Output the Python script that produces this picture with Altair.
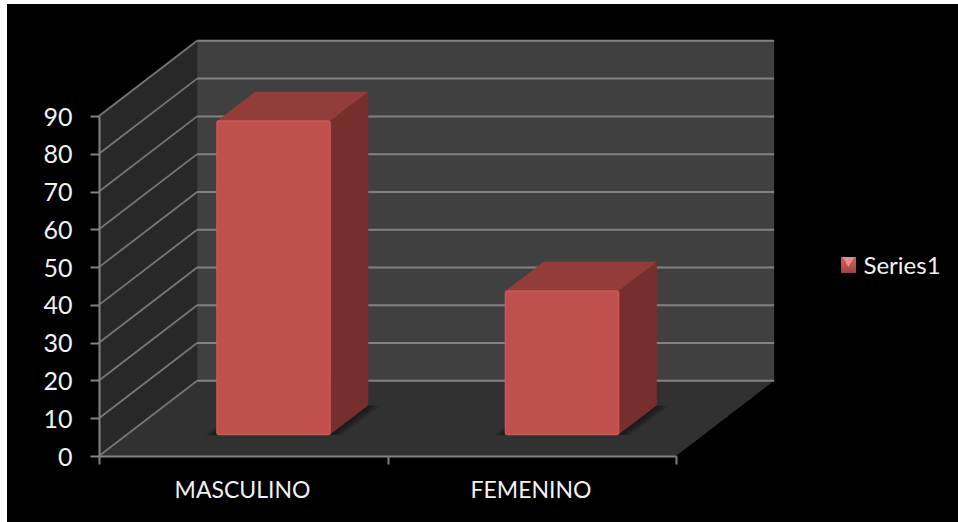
import altair as alt
import pandas as pd

# Values of the chart
categories = ["MASCULINO", "FEMENINO"]
series_name = "Series1"
values = [83, 38]
y_ticks = [0, 10, 20, 30, 40, 50, 60, 70, 80, 90]
x_ticks = [0, 1, 2]

# Oblique projection of the 3-D box: one unit of depth moves right and up
DEPTH_X = 0.34
DEPTH_Y = 19.9
BAR_LEFT = 0.312
BAR_WIDTH = 0.392
BAR_D0 = 0.285
BAR_D1 = 0.675

FONT = "Lato"
GRID = "#828282"
TEXT = "#f2f2f2"
BAR_FRONT = "#c0504d"
BAR_TOP = "#933d3a"
BAR_SIDE = "#772f2d"


def px(c, d):
    return c + d * DEPTH_X


def py(v, d):
    return v + d * DEPTH_Y


x_scale = alt.Scale(domain=[0, 2], nice=False, zero=False)
y_scale = alt.Scale(domain=[0, 90], nice=False, zero=False)

x_axis = alt.Axis(
    values=x_ticks, title=None, grid=False, zindex=1,
    domainColor=GRID, domainWidth=2,
    tickColor=GRID, tickSize=8, tickWidth=2,
    labelExpr="['" + "','".join(categories) + "',''][datum.value]",
    labelOffset=143, labelPadding=15, labelOverlap=False, labelBound=False, labelFlush=False,
    labelFont=FONT, labelFontSize=23, labelColor=TEXT,
)
y_axis = alt.Axis(
    values=y_ticks, title=None, grid=False, zindex=1,
    domainColor=GRID, domainWidth=2,
    tickColor=GRID, tickSize=9, tickWidth=2,
    labelPadding=18, labelOffset=1, labelFont=FONT, labelFontSize=25, labelColor=TEXT,
)
X = alt.X("x:Q", scale=x_scale, axis=x_axis)
Y = alt.Y("y:Q", scale=y_scale, axis=y_axis)

top_v = y_ticks[-1]

# Back wall, side wall and floor of the box
back_wall = alt.Chart(pd.DataFrame({
    "x": [px(0, 1)], "x2": [px(2, 1)], "y": [py(0, 1)], "y2": [py(top_v, 1)],
})).mark_rect(color="#404040").encode(X, x2="x2:Q", y=Y, y2="y2:Q")

side_wall = alt.Chart(pd.DataFrame({
    "x": [px(0, 0), px(0, 1)],
    "y": [py(0, 0), py(0, 1)],
    "y2": [py(top_v, 0), py(top_v, 1)],
})).mark_area(color="#282828").encode(X, y=Y, y2="y2:Q")

floor = alt.Chart(pd.DataFrame({
    "y": [py(0, 0), py(0, 1)],
    "x": [px(0, 0), px(0, 1)],
    "x2": [px(2, 0), px(2, 1)],
})).mark_area(color="#313131", orient="horizontal").encode(X, x2="x2:Q", y=Y)

# Gridlines on the back wall and their continuation across the side wall
back_grid = alt.Chart(pd.DataFrame({
    "x": [px(0, 1)] * len(y_ticks),
    "x2": [px(2, 1)] * len(y_ticks),
    "y": [py(v, 1) for v in y_ticks],
})).mark_rule(color=GRID, strokeWidth=2).encode(X, x2="x2:Q", y=Y)

side_rows = []
for v in y_ticks:
    side_rows.append({"x": px(0, 0), "y": py(v, 0), "level": v})
    side_rows.append({"x": px(0, 1), "y": py(v, 1), "level": v})
side_grid = alt.Chart(pd.DataFrame(side_rows)).mark_line(
    color="#767676", strokeWidth=1.8
).encode(X, Y, detail="level:N")

# Faces of the bars
front_rows, top_rows, side_rows_b, shadow_rows = [], [], [], []
for i, (cat, v) in enumerate(zip(categories, values)):
    c0 = i + BAR_LEFT
    c1 = c0 + BAR_WIDTH
    front_rows.append({
        "x": px(c0, BAR_D0), "x2": px(c1, BAR_D0),
        "y": py(0, BAR_D0), "y2": py(v, BAR_D0), "series": series_name,
    })
    for d in (BAR_D0, BAR_D1):
        top_rows.append({"bar": cat, "y": py(v, d), "x": px(c0, d), "x2": px(c1, d)})
    for d in (BAR_D0, BAR_D1):
        side_rows_b.append({"bar": cat, "x": px(c1, d), "y": py(0, d), "y2": py(v, d)})
    for spread in (0.04, 0.028, 0.016):
        for d in (BAR_D0, BAR_D1):
            shadow_rows.append({
                "key": f"{cat}{spread}", "y": py(0, d) - spread * 4,
                "x": px(c0 - spread, d), "x2": px(c1 + spread, d),
            })

shadows = alt.Chart(pd.DataFrame(shadow_rows)).mark_area(
    color="#000000", opacity=0.16, orient="horizontal"
).encode(X, x2="x2:Q", y=Y, detail="key:N")

tops = alt.Chart(pd.DataFrame(top_rows)).mark_area(
    color=BAR_TOP, orient="horizontal"
).encode(X, x2="x2:Q", y=Y, detail="bar:N")

sides = alt.Chart(pd.DataFrame(side_rows_b)).mark_area(
    color=BAR_SIDE
).encode(X, y=Y, y2="y2:Q", detail="bar:N")

fronts = alt.Chart(pd.DataFrame(front_rows)).mark_rect(
    stroke="#c95a56", strokeWidth=1.5, cornerRadius=2
).encode(
    X, x2="x2:Q", y=Y, y2="y2:Q",
    color=alt.Color("series:N", scale=alt.Scale(domain=[series_name], range=[BAR_FRONT]), legend=alt.Legend(
        title=None, orient="none", legendX=732.5, legendY=138.5, padding=0,
        symbolType="square", symbolSize=225, symbolOpacity=0,
        labelFont=FONT, labelFontSize=24, labelColor=TEXT, labelOffset=8,
    )),
)

# Legend key with its shaded body and pale triangular glint
key_body = alt.Chart(pd.DataFrame({"k": [0]})).mark_rect(
    color=alt.Gradient(
        gradient="linear", x1=0, y1=0, x2=0, y2=1,
        stops=[
            alt.GradientStop(color="#c9605c", offset=0),
            alt.GradientStop(color="#c0504d", offset=0.55),
            alt.GradientStop(color="#8f4442", offset=1),
        ],
    )
).encode(x=alt.value(742), x2=alt.value(757), y=alt.value(141), y2=alt.value(157))

glint = alt.Chart(pd.DataFrame({"k": [0]})).mark_point(
    shape="triangle-down", filled=True, color="#ee8a87", opacity=1, size=140
).encode(x=alt.value(749.5), y=alt.value(146))

# Pale strips along the top and left edges of the page
left_strip = alt.Chart(pd.DataFrame({"k": [0]})).mark_rect(color="#ffffff").encode(
    x=alt.value(-99), x2=alt.value(-92), y=alt.value(-116), y2=alt.value(406))
top_strip = alt.Chart(pd.DataFrame({"k": [0]})).mark_rect(color="#ffffff").encode(
    x=alt.value(-99), x2=alt.value(859), y=alt.value(-116), y2=alt.value(-112))

chart = alt.layer(
    back_wall, side_wall, floor, back_grid, side_grid,
    shadows, tops, sides, fronts, key_body, glint, left_strip, top_strip,
).properties(
    width=577, height=340, background="#000000",
    padding={"left": 99, "top": 116, "right": 282, "bottom": 66},
    autosize=alt.AutoSizeParams(type="none"),
).configure_view(stroke=None)

chart.save("out.html", embed_options={"renderer": "svg", "actions": False})
